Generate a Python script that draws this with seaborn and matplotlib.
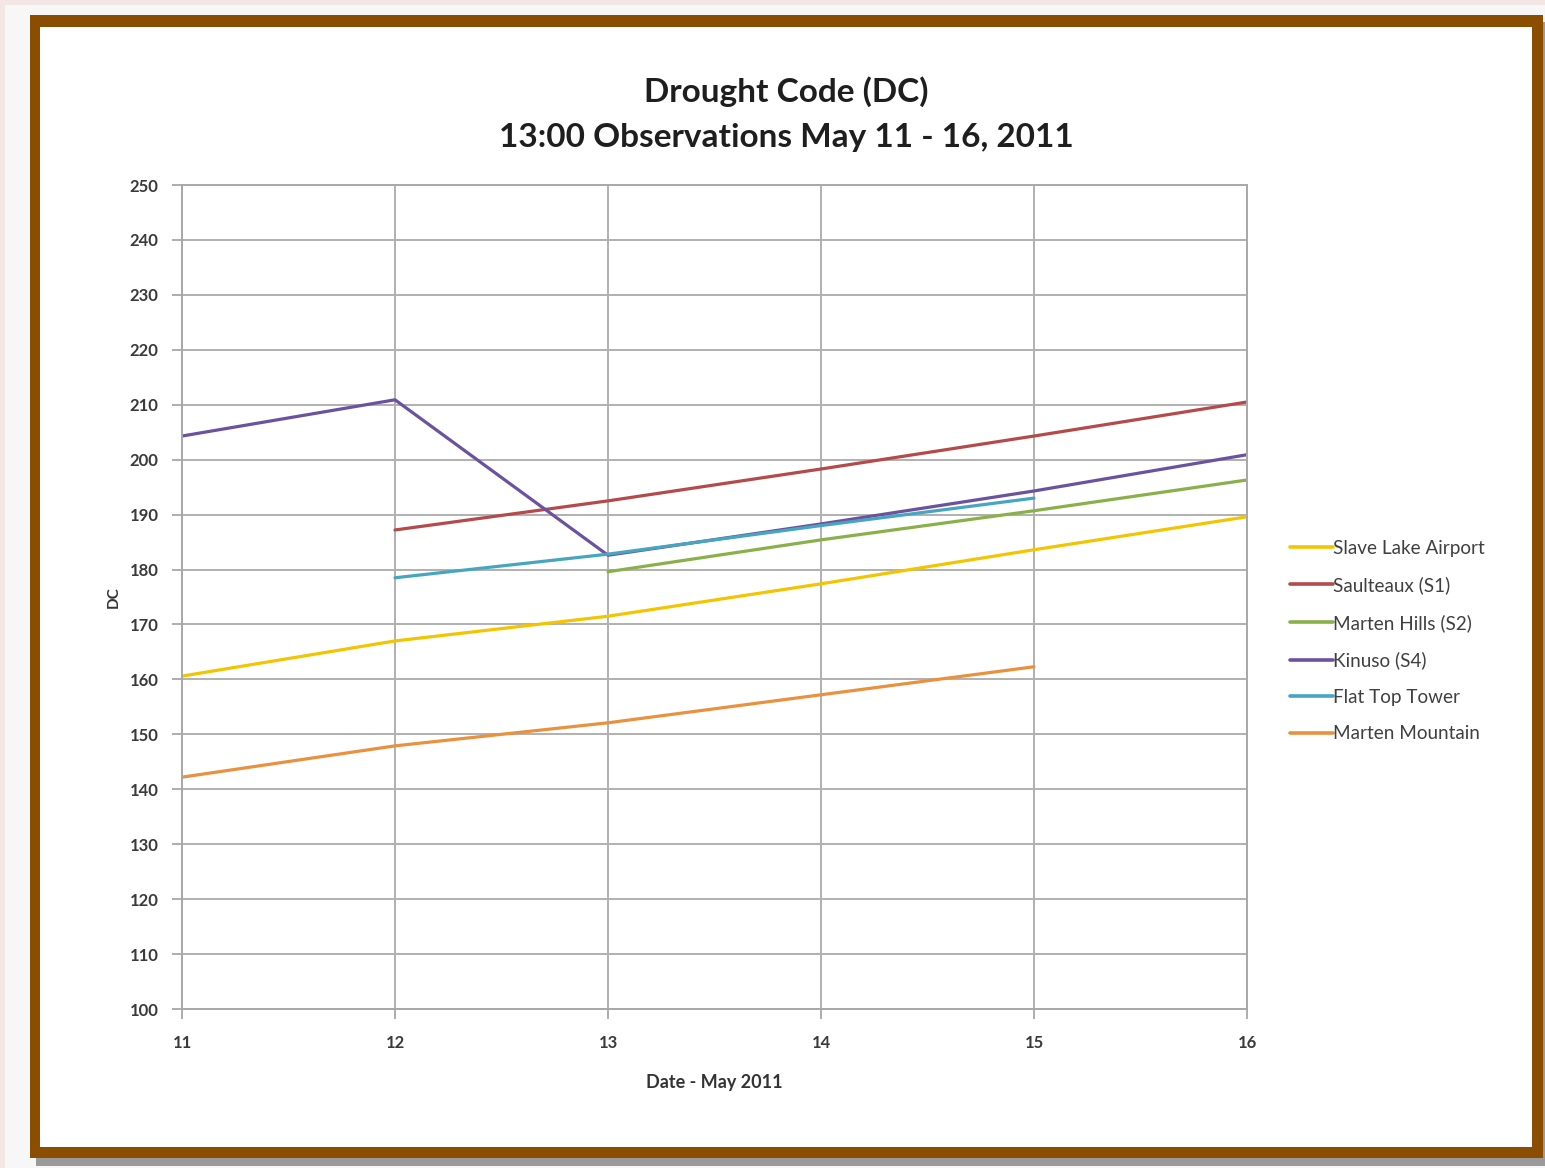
import numpy as np
import pandas as pd
import seaborn as sns
import matplotlib.pyplot as plt
from matplotlib.patches import Rectangle

# Daily 13:00 Drought Code readings, May 2011
days = [11, 12, 13, 14, 15, 16]
slave_lake_airport = [160.6, 167.0, 171.5, 177.4, 183.6, 189.6]
saulteaux_s1 = [np.nan, 187.2, 192.5, 198.3, 204.3, 210.5]
marten_hills_s2 = [np.nan, np.nan, 179.6, 185.4, 190.7, 196.3]
kinuso_s4 = [204.3, 210.9, 182.6, 188.3, 194.3, 200.9]
flat_top_tower = [np.nan, 178.5, 182.8, 188.0, 193.0, np.nan]
marten_mountain = [142.2, 147.9, 152.1, 157.2, 162.3, np.nan]

stations = ["Slave Lake Airport", "Saulteaux (S1)", "Marten Hills (S2)",
            "Kinuso (S4)", "Flat Top Tower", "Marten Mountain"]
series = [slave_lake_airport, saulteaux_s1, marten_hills_s2,
          kinuso_s4, flat_top_tower, marten_mountain]
colors = ["#F2C500", "#B54A4A", "#8AB04A", "#6A52A0", "#46A6C0", "#E8913E"]

rows = []
for name, vals in zip(stations, series):
    for d, v in zip(days, vals):
        if not np.isnan(v):
            rows.append({"day": d, "DC": v, "station": name})
df = pd.DataFrame(rows)

sns.set_theme(style="white")
plt.rcParams["font.family"] = ["Lato", "DejaVu Sans"]

W, H = 1545, 1168
fig = plt.figure(figsize=(W / 100, H / 100), dpi=100)
fig.patch.set_facecolor("#f3e6e4")

def px_rect(x0, y0, x1, y1, **kw):
    return Rectangle((x0 / W, 1 - y1 / H), (x1 - x0) / W, (y1 - y0) / H,
                     transform=fig.transFigure, **kw)

# page background, drop shadow and brown frame
fig.patches.append(px_rect(5, 5, W, H, facecolor="#f7f7f7", edgecolor="none", zorder=-3))
fig.patches.append(px_rect(36, 22, 1551, 1166, facecolor="#9a9a9a", edgecolor="none", zorder=-2.5))
fig.patches.append(px_rect(30, 15, 1543, 1158, facecolor="#8B4D00", edgecolor="none", zorder=-2))
fig.patches.append(px_rect(40, 27, 1532, 1147, facecolor="white", edgecolor="none", zorder=-1.5))

ax = fig.add_axes([182 / W, 1 - 1009 / H, (1247 - 182) / W, (1009 - 185) / H])
ax.set_zorder(2)
ax.set_facecolor("white")

sns.lineplot(data=df, x="day", y="DC", hue="station", hue_order=stations,
             palette=dict(zip(stations, colors)), linewidth=2.3, ax=ax,
             estimator=None, sort=True)

ax.set_xlim(11, 16)
ax.set_ylim(100, 250)
ax.set_xticks(days)
ax.set_yticks(range(100, 251, 10))
ax.grid(True, color="#b0b0b0", linewidth=1.4)
ax.set_axisbelow(True)
for s in ax.spines.values():
    s.set_color("#a8a8a8")
    s.set_linewidth(1.4)
ax.tick_params(axis="both", which="major", direction="out", length=7,
               width=1.2, color="#a0a0a0", labelsize=12, labelcolor="#3a3a3a",
               left=True, bottom=True)
ax.tick_params(axis="y", pad=10)
ax.tick_params(axis="x", pad=12)
for lbl in ax.get_xticklabels() + ax.get_yticklabels():
    lbl.set_fontweight("bold")

ax.set_xlabel("Date - May 2011", fontsize=13, fontweight="bold", color="#333333", labelpad=16)
ax.set_ylabel("DC", fontsize=11, fontweight="bold", color="#333333", labelpad=6)

fig.text(786 / W, 1 - 92 / H, "Drought Code (DC)", ha="center", va="center",
         fontsize=24, fontweight="bold", color="#1e1e1e")
fig.text(786 / W, 1 - 137 / H, "13:00 Observations May 11 - 16, 2011", ha="center",
         va="center", fontsize=24, fontweight="bold", color="#1e1e1e")

leg = ax.legend(loc="upper left", bbox_to_anchor=(1282 / W, 1 - 532 / H),
                bbox_transform=fig.transFigure, frameon=False, fontsize=13.6,
                handlelength=2.3, handletextpad=0.02, labelspacing=1.04,
                borderaxespad=0)
for t in leg.get_texts():
    t.set_color("#404040")
for l in leg.get_lines():
    l.set_linewidth(2.6)

fig.savefig("out.png", dpi=100, facecolor=fig.get_facecolor())
